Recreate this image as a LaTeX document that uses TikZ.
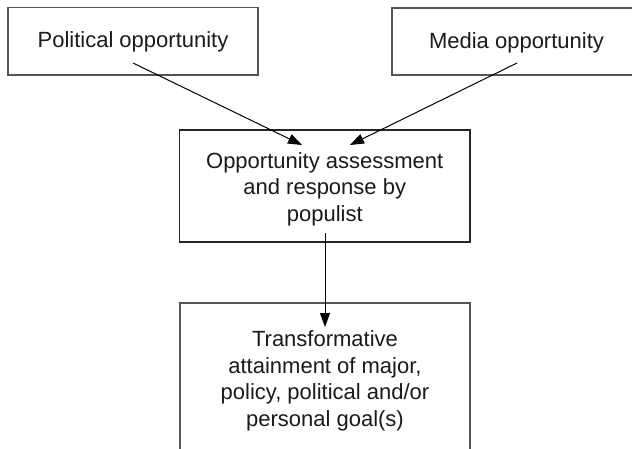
\documentclass[tikz,border=0pt]{standalone}
\usepackage{fontspec}
\setmainfont{Liberation Sans}
\usetikzlibrary{arrows.meta}
\definecolor{boxgray}{HTML}{555555}
\definecolor{txt}{HTML}{1a1a1a}
\tikzset{
  box/.style={draw=boxgray, line width=1.1pt, rectangle, inner sep=0pt},
  midbox/.style={box, draw=black!85, line width=1.6pt},
  lbl/.style={inner sep=0pt, align=center, font=\fontsize{22pt}{26.5pt}\selectfont, text=txt},
  conn/.style={line width=1pt, -{Triangle[length=14pt,width=10pt]}}
}
\begin{document}
\begin{tikzpicture}[x=1pt,y=-1pt]
\clip (0,0) rectangle (632,449);
\node[box, minimum width=250pt, minimum height=67.5pt] (pol) at (133,41.25) {};
\node[box, minimum width=249pt, minimum height=67pt] (med) at (516.5,41.5) {};
\node[midbox, minimum width=290.5pt, minimum height=112pt] (mid) at (324.75,186) {};
\node[box, minimum width=290pt, minimum height=149pt] (bot) at (325,377.5) {};
\node[lbl] (poltxt) at ([yshift=-1pt]pol.center) {Political opportunity};
\node[lbl] (medtxt) at ([yshift=-1pt]med.center) {Media opportunity};
\node[lbl] (midtxt) at ([yshift=-3pt]mid.center) {Opportunity assessment\\and response by\\populist};
\node[lbl] (bottxt) at ([yshift=-3.5pt]bot.center) {Transformative\\attainment of major,\\policy, political and/or\\personal goal(s)};
\coordinate (polout) at ([shift={(0,21.75)}]pol.center);
\coordinate (medout) at ([shift={(0.5,21.5)}]med.center);
\coordinate (midinL) at ([shift={(-22.75,-41)}]mid.center);
\coordinate (midinR) at ([shift={(25.25,-41)}]mid.center);
\coordinate (midout) at ([shift={(0.25,47)}]mid.center);
\coordinate (botin) at ([shift={(0,-50.5)}]bot.center);
\draw[conn] (polout) -- (midinL);
\draw[conn] (medout) -- (midinR);
\draw[conn] (midout) -- (botin);
\end{tikzpicture}
\end{document}
